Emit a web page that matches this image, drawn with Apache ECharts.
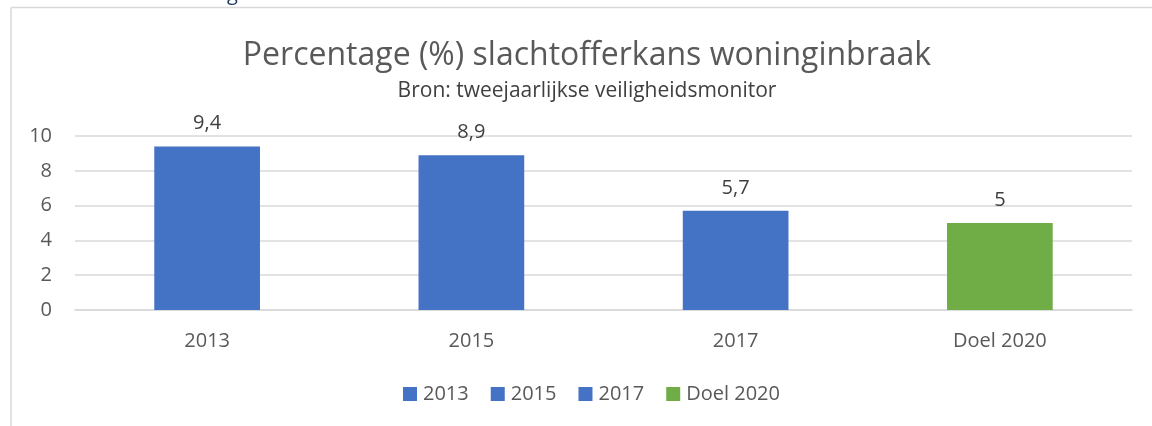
<!DOCTYPE html>
<html>
<head>
<meta charset="utf-8">
<script src="https://cdn.jsdelivr.net/npm/echarts@6/dist/echarts.min.js"></script>
<style>
  html, body { margin: 0; padding: 0; background: #fff; }
  #chart { width: 1152px; height: 426px; }
</style>
</head>
<body>
<div id="chart"></div>
<script>
// data
var categories = ['2013', '2015', '2017', 'Doel 2020'];
var values = [9.4, 8.9, 5.7, 5];
var colors = ['#4472C4', '#4472C4', '#4472C4', '#70AD47'];
var yTicks = [0, 2, 4, 6, 8, 10];

var font = '"Open Sans", "Noto Sans", sans-serif';
var textColor = '#595959';

// one series per category so the legend shows each year, stacked so bars stay centred
var series = categories.map(function (name, i) {
  return {
    name: name,
    type: 'bar',
    stack: 'all',
    barWidth: '40%',
    itemStyle: { color: colors[i] },
    label: {
      show: true,
      position: 'top',
      distance: 13,
      color: '#404040',
      fontFamily: font,
      fontSize: 20,
      formatter: function (p) { return String(p.value).replace('.', ','); }
    },
    data: categories.map(function (c, j) { return j === i ? values[i] : '-'; })
  };
});

var myChart = echarts.init(document.getElementById('chart'));
var option = {
  animation: false,
  title: {
    text: 'Percentage (%) slachtofferkans woninginbraak',
    subtext: 'Bron: tweejaarlijkse veiligheidsmonitor',
    left: 582,
    textAlign: 'center',
    top: 35,
    itemGap: 9,
    textStyle: { fontFamily: font, fontSize: 32, fontWeight: 'normal', color: textColor },
    subtextStyle: { fontFamily: font, fontSize: 21, color: '#404040' }
  },
  legend: {
    top: 379,
    left: 398,
    itemWidth: 14,
    itemHeight: 14,
    itemGap: 22,
    icon: 'rect',
    textStyle: { fontFamily: font, fontSize: 20, color: textColor, padding: [0, 0, 0, 1] }
  },
  grid: { left: 75, right: 20, top: 136, bottom: 116 },
  xAxis: {
    type: 'category',
    data: categories,
    axisLine: { lineStyle: { color: '#d9d9d9', width: 1.5 } },
    axisTick: { show: false },
    axisLabel: { fontFamily: font, fontSize: 20, color: textColor, margin: 21 }
  },
  yAxis: {
    type: 'value',
    min: yTicks[0],
    max: yTicks[yTicks.length - 1],
    interval: yTicks[1] - yTicks[0],
    axisLabel: { fontFamily: font, fontSize: 20, color: textColor, margin: 23 },
    splitLine: { lineStyle: { color: '#d9d9d9', width: 1.5 } }
  },
  graphic: [
    { type: 'line', shape: { x1: 11, y1: 7.5, x2: 1152, y2: 7.5 }, style: { stroke: '#d9d9d9', lineWidth: 1.5 } },
    { type: 'line', shape: { x1: 11, y1: 7.5, x2: 11, y2: 426 }, style: { stroke: '#d9d9d9', lineWidth: 1.5 } },
    { type: 'text', left: 227, top: -16, style: { text: 'g', fontFamily: font, fontSize: 20, fill: '#1F3864' } }
  ],
  series: series
};
window.onresize = myChart.resize;
myChart.setOption(option);
</script>
</body>
</html>
